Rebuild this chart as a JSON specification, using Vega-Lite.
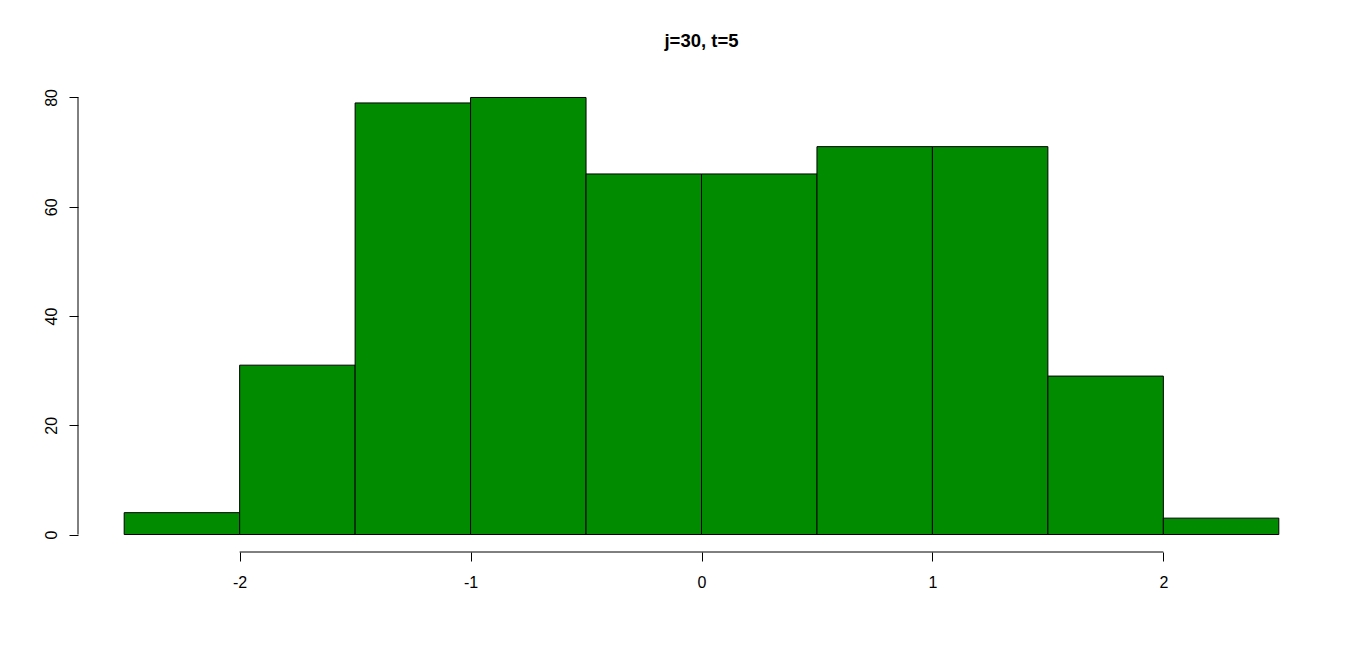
{
  "$schema": "https://vega.github.io/schema/vega-lite/v6.json",
  "autosize": {"type": "none"},
  "width": 1247,
  "height": 472,
  "padding": {"left": 78, "top": 80, "right": 41, "bottom": 98},
  "background": "white",
  "title": {
    "text": "j=30, t=5",
    "font": "Liberation Sans",
    "fontSize": 18.5,
    "fontWeight": "bold",
    "color": "black",
    "anchor": "middle",
    "frame": "group",
    "offset": 30
  },
  "config": {
    "view": {"stroke": null},
    "axis": {
      "domain": false,
      "grid": false,
      "tickColor": "black",
      "tickSize": 9,
      "tickWidth": 1,
      "labelColor": "black",
      "labelFont": "Liberation Sans",
      "labelFontSize": 16,
      "title": null
    }
  },
  "layer": [
    {
      "data": {
        "values": [
          {"start": -2.5, "end": -2.0, "count": 4},
          {"start": -2.0, "end": -1.5, "count": 31},
          {"start": -1.5, "end": -1.0, "count": 79},
          {"start": -1.0, "end": -0.5, "count": 80},
          {"start": -0.5, "end": 0.0, "count": 66},
          {"start": 0.0, "end": 0.5, "count": 66},
          {"start": 0.5, "end": 1.0, "count": 71},
          {"start": 1.0, "end": 1.5, "count": 71},
          {"start": 1.5, "end": 2.0, "count": 29},
          {"start": 2.0, "end": 2.5, "count": 3}
        ]
      },
      "mark": {"type": "bar", "fill": "#008B00", "stroke": "black", "strokeWidth": 1, "opacity": 1},
      "encoding": {
        "x": {
          "field": "start",
          "type": "quantitative",
          "scale": {"domain": [-2.7, 2.7], "nice": false, "zero": false},
          "axis": {"values": [-2, -1, 0, 1, 2], "labelPadding": 13, "labelExpr": "'' + datum.value"}
        },
        "x2": {"field": "end"},
        "y": {
          "field": "count",
          "type": "quantitative",
          "scale": {"domain": [-3.2, 83.2], "nice": false, "zero": false},
          "axis": {"values": [0, 20, 40, 60, 80], "labelAngle": -90, "labelAlign": "center", "labelBaseline": "bottom", "labelPadding": 10}
        },
        "y2": {"datum": 0}
      }
    },
    {
      "data": {"values": [{}]},
      "mark": {"type": "rule", "color": "black", "strokeWidth": 1},
      "encoding": {
        "x": {"datum": -2, "type": "quantitative"},
        "x2": {"datum": 2},
        "y": {"datum": -3.2, "type": "quantitative"}
      }
    },
    {
      "data": {"values": [{}]},
      "mark": {"type": "rule", "color": "black", "strokeWidth": 1},
      "encoding": {
        "x": {"datum": -2.7, "type": "quantitative"},
        "y": {"datum": 0, "type": "quantitative"},
        "y2": {"datum": 80}
      }
    }
  ]
}
